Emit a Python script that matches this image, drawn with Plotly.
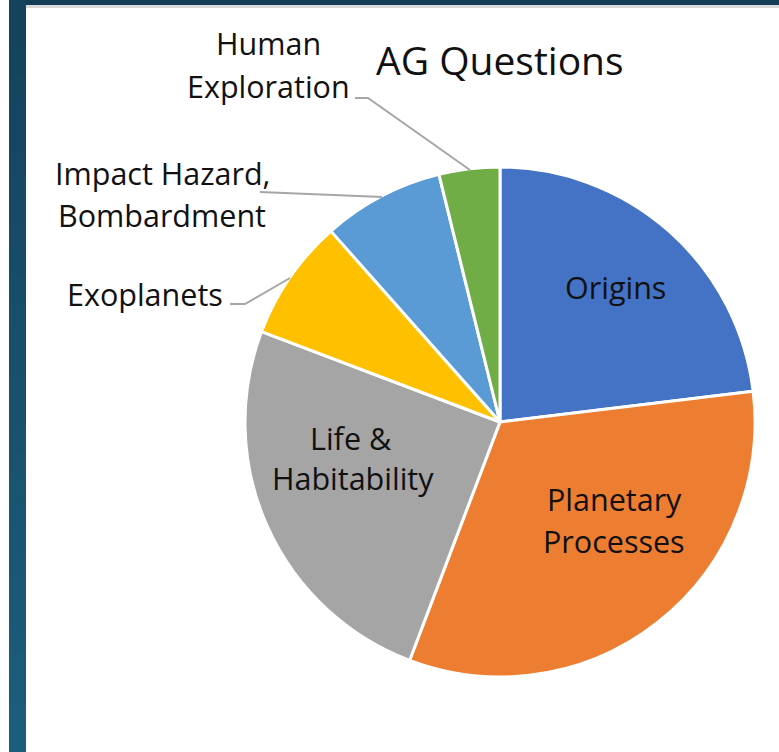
import plotly.graph_objects as go

# ---- data ----
categories = ["Origins", "Planetary Processes", "Life & Habitability",
              "Exoplanets", "Impact Hazard, Bombardment", "Human Exploration"]
counts = [12, 17, 13, 4, 4, 2]
colors = ["#4472C4", "#ED7D31", "#A5A5A5", "#FFC000", "#5B9BD5", "#70AD47"]
title_text = "AG Questions"

W, H = 779, 752
FONT = "Open Sans"

def px(x):
    return x / W

def py(y):
    return 1 - y / H

cx, cy, R = 500, 422, 255

fig = go.Figure(go.Pie(
    labels=categories,
    values=counts,
    sort=False,
    direction="clockwise",
    rotation=0,
    textinfo="none",
    hoverinfo="label+value+percent",
    marker=dict(colors=colors, line=dict(color="white", width=3)),
    domain=dict(x=[px(cx - R), px(cx + R)], y=[py(cy + R), py(cy - R)]),
    showlegend=False,
))

shapes = []
# left gradient bar (overlapping stacked rects, no seams)
n = 30
c0 = (0x15, 0x42, 0x5D)
c1 = (0x1B, 0x5E, 0x7B)
for i in range(n):
    t = i / (n - 1)
    col = "rgb(%d,%d,%d)" % tuple(round(a + (b - a) * t) for a, b in zip(c0, c1))
    shapes.append(dict(type="rect", xref="paper", yref="paper",
                       x0=px(9), x1=px(26), y0=0, y1=py(H * i / n),
                       fillcolor=col, line=dict(width=0), layer="above"))
# top bar
shapes.append(dict(type="rect", xref="paper", yref="paper", x0=px(26), x1=1,
                   y0=py(5), y1=1, fillcolor="#153D55", line=dict(width=0)))
shapes.append(dict(type="rect", xref="paper", yref="paper", x0=px(26), x1=1,
                   y0=py(8), y1=py(5), fillcolor="#DADADA", line=dict(width=0)))

# leader lines
def leader(points):
    d = "M " + " L ".join("%f,%f" % (px(x), py(y)) for x, y in points)
    return dict(type="path", xref="paper", yref="paper", path=d,
                line=dict(color="#A6A6A6", width=2))

shapes.append(leader([(355, 98), (368, 98), (470, 170)]))
shapes.append(leader([(260, 192), (382, 197)]))
shapes.append(leader([(230, 304), (245, 304), (290, 278)]))

annotations = []
def label(text, x, y, size=30.5, color="#111111"):
    annotations.append(dict(text=text, x=px(x), y=py(y), xref="paper", yref="paper",
                            xanchor="center", yanchor="middle", showarrow=False,
                            font=dict(family=FONT, size=size, color=color)))

label(title_text, 500, 60, size=39)
label("Human", 268, 43)
label("Exploration", 268, 86)
label("Impact Hazard,", 162, 173)
label("Bombardment", 162, 215)
label("Exoplanets", 145, 294)
label("Origins", 615, 287)
label("Life &", 351, 438)
label("Habitability", 353, 478)
label("Planetary", 614, 499)
label("Processes", 614, 541)

fig.update_layout(
    width=W, height=H,
    margin=dict(l=0, r=0, t=0, b=0),
    paper_bgcolor="white",
    plot_bgcolor="white",
    shapes=shapes,
    annotations=annotations,
)

fig.write_html("out.html", config={"displayModeBar": False},
               post_script="document.body.style.margin='0';document.body.style.padding='0';")
